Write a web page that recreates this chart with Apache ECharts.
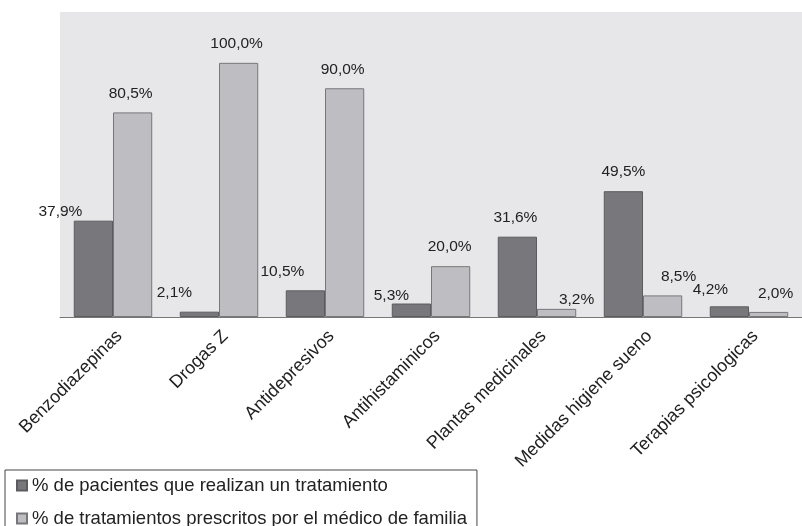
<!DOCTYPE html>
<html>
<head>
<meta charset="utf-8">
<script src="https://cdn.jsdelivr.net/npm/echarts@6/dist/echarts.min.js"></script>
<style>html,body{margin:0;padding:0;background:#fff}#c{width:802px;height:526px}</style>
</head>
<body>
<div id="c"></div>
<script>
const categories = ['Benzodiazepinas','Drogas Z','Antidepresivos','Antihistaminicos','Plantas medicinales','Medidas higiene sueno','Terapias psicologicas'];
const seriesNames = ['% de pacientes que realizan un tratamiento','% de tratamientos prescritos por el médico de familia'];
const pacientes = [37.9, 2.1, 10.5, 5.3, 31.6, 49.5, 4.2];
const prescritos = [80.5, 100.0, 90.0, 20.0, 3.2, 8.5, 2.0];
// label nudges (styling only)
const darkNudge = [[-33,10],[-25,0],[-23,0],[-20,11],[-2,0],[0,0],[-19,2]];
const lightNudge = [[-2,0],[-2,0],[-2,0],[-1,0],[20,10],[16,0],[7,1]];

const fmt = p => p.value.toFixed(1).replace('.', ',') + '%';
const FONT = 'Liberation Sans';

function makeData(vals, nudges) {
  return vals.map((v, i) => ({ value: v, label: { offset: nudges[i] } }));
}

const chart = echarts.init(document.getElementById('c'), null, { renderer: 'canvas' });
chart.setOption({
  animation: false,
  textStyle: { fontFamily: FONT },
  grid: { left: 60, right: 0, top: 12, bottom: 209, show: true, backgroundColor: '#e7e7e9', borderWidth: 0 },
  legend: {
    orient: 'vertical', left: 5, top: 470, height: 200,
    itemWidth: 10, itemHeight: 10, itemGap: 14,
    backgroundColor: '#fff', borderColor: '#444', borderWidth: 1,
    padding: [6, 10, 30, 11],
    icon: 'rect',
    textStyle: { fontFamily: FONT, fontSize: 18.5, color: '#222' },
    data: seriesNames
  },
  xAxis: {
    type: 'category', data: categories,
    axisLine: { lineStyle: { color: '#777', width: 1 } },
    axisTick: { show: false },
    axisLabel: { rotate: 45, interval: 0, margin: 10, verticalAlign: 'top', fontFamily: FONT, fontSize: 18, color: '#222' }
  },
  yAxis: {
    type: 'value', min: 0, max: 120, show: false, splitLine: { show: false }
  },
  series: [
    {
      name: seriesNames[0], type: 'bar', data: makeData(pacientes, darkNudge),
      barGap: '0%', barCategoryGap: '26%',
      itemStyle: { color: '#78787c', borderColor: '#5c5c60', borderWidth: 1 },
      label: { show: true, position: 'top', distance: 11, formatter: fmt, fontFamily: FONT, fontSize: 15.5, color: '#222' }
    },
    {
      name: seriesNames[1], type: 'bar', data: makeData(prescritos, lightNudge),
      barGap: '0%', barCategoryGap: '26%',
      itemStyle: { color: '#bebec2', borderColor: '#77777b', borderWidth: 1 },
      label: { show: true, position: 'top', distance: 11, formatter: fmt, fontFamily: FONT, fontSize: 15.5, color: '#222' }
    }
  ]
});
</script>
</body>
</html>
